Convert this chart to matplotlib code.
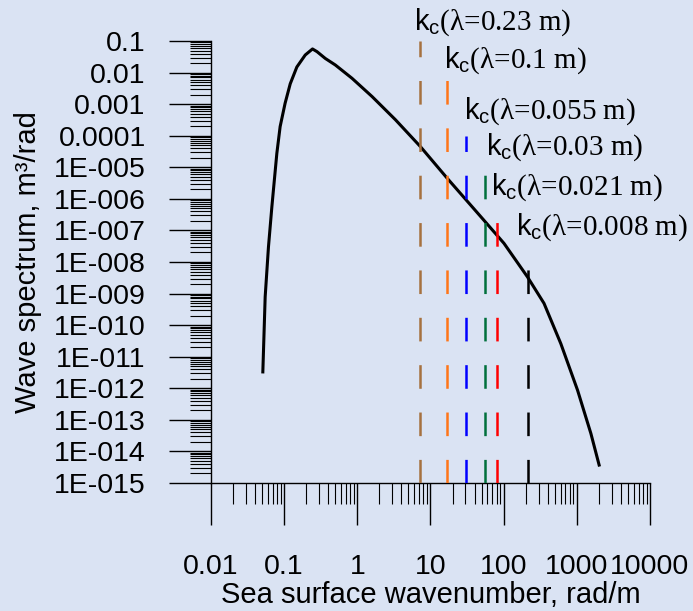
import numpy as np
import matplotlib
matplotlib.use('Agg')
import matplotlib.pyplot as plt
from matplotlib.ticker import FixedLocator, LogLocator, NullFormatter

plt.rcParams['font.family'] = 'Liberation Sans'
plt.rcParams['mathtext.fontset'] = 'custom'
plt.rcParams['mathtext.sf'] = 'Liberation Sans'
plt.rcParams['mathtext.rm'] = 'Liberation Serif'
plt.rcParams['lines.scale_dashes'] = False

# wave spectrum
k = [0.0511, 0.055, 0.061, 0.0679, 0.0713, 0.0794, 0.0881, 0.103, 0.121, 0.149,
     0.194, 0.244, 0.281, 0.365, 0.50, 0.845, 1.59, 3.32, 7.29, 16.9,
     53.7, 101, 211, 356, 604, 1023, 1556, 2018]
S = [3.3e-12, 7.9e-10, 3.0e-8, 5.6e-7, 1.9e-6, 2.75e-5, 1.95e-4, 1.07e-3, 4.4e-3, 1.5e-2,
     3.6e-2, 5.6e-2, 4.6e-2, 2.8e-2, 1.74e-2, 6.6e-3, 1.74e-3, 3.2e-4, 4.5e-5, 4.5e-6,
     2.1e-7, 3.9e-8, 3.4e-9, 4.9e-10, 2.6e-11, 8.7e-13, 3.7e-14, 3.7e-15]

# cutoff wavenumbers
kc = [7.3, 16.7, 30.5, 56, 80, 218]
kc_top = [0.1, 0.01, 1e-4, 1e-5, 1e-6, 1e-8]
kc_names = ['0.23', '0.1', '0.055', '0.03', '0.021', '0.008']
kc_colors = ['#a6713f', '#ff7518', '#0000ff', '#00703c', '#ff0000', '#000000']

# where the labels sit
lab_k = [6.04, 15.1, 28.3, 56.6, 66.4, 146]
lab_y = [0.40, 0.025, 6.0e-4, 4.4e-5, 2.3e-6, 1.23e-7]

y_ticks = [10.0 ** -n for n in range(1, 16)]
y_labels = ['0.1', '0.01', '0.001', '0.0001'] + ['1E-%03d' % n for n in range(5, 16)]
x_ticks = [0.01, 0.1, 1, 10, 100, 1000, 10000]
x_labels = ['0.01', '0.1', '1', '10', '100', '1000', '10000']

bg = '#dae3f3'
fig = plt.figure(figsize=(6.93, 6.11), dpi=100, facecolor=bg)
ax = fig.add_axes([211/693, 1 - 483/611, 439/693, 442/611], facecolor=bg)

ax.plot(k, S, color='black', lw=2.2, zorder=2)

for x, top, c in zip(kc, kc_top, kc_colors):
    ax.plot([x, x], [1e-15, top], color=c, lw=1.8, linestyle=(0, (17, 17.1)), zorder=3)

for lk, ly, name in zip(lab_k, lab_y, kc_names):
    ax.text(lk, ly, r'$\mathsf{k_c}$(λ=%s m)' % name, family='Liberation Serif',
            fontsize=21, va='center', ha='left')

ax.set_xscale('log')
ax.set_yscale('log')
ax.set_xlim(0.01, 10000)
ax.set_ylim(1e-15, 0.1)

ax.xaxis.set_major_locator(FixedLocator(x_ticks))
ax.set_xticklabels(x_labels)
ax.yaxis.set_major_locator(FixedLocator(y_ticks))
ax.set_yticklabels(y_labels)
ax.xaxis.set_minor_locator(LogLocator(base=10, subs=np.arange(2, 10), numticks=100))
ax.yaxis.set_minor_locator(LogLocator(base=10, subs=np.arange(2, 10), numticks=100))
ax.xaxis.set_minor_formatter(NullFormatter())
ax.yaxis.set_minor_formatter(NullFormatter())

ax.tick_params(which='major', direction='out', length=30, width=1, labelsize=20.5, pad=17)
ax.tick_params(axis='x', which='major', pad=21)
ax.tick_params(which='minor', direction='out', length=15, width=0.8)

for s in ['top', 'right']:
    ax.spines[s].set_visible(False)
for s in ['left', 'bottom']:
    ax.spines[s].set_linewidth(1)

ax.set_xlabel('Sea surface wavenumber, rad/m', fontsize=21)
ax.set_ylabel('Wave spectrum, m³/rad', fontsize=21)
ax.xaxis.set_label_coords(0.5, -0.222)
ax.yaxis.set_label_coords(-0.385, 0.5)

fig.savefig('out.png', dpi=100, facecolor=bg)
